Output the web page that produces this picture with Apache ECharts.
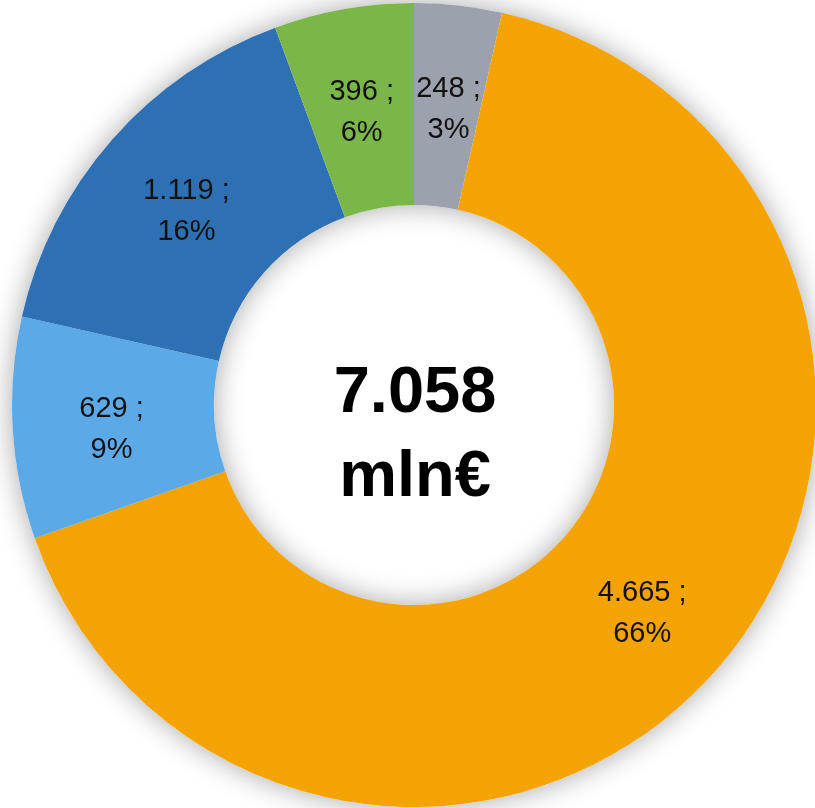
<!DOCTYPE html>
<html>
<head>
<meta charset="utf-8">
<script src="https://cdn.jsdelivr.net/npm/echarts@6/dist/echarts.min.js"></script>
<style>
  html, body { margin: 0; padding: 0; background: #fff; }
  #chart { width: 815px; height: 808px; }
</style>
</head>
<body>
<div id="chart"></div>
<script>
  // clockwise from 12 o'clock
  var categories = ['Altro', 'Voce A', 'Voce B', 'Voce C', 'Voce D'];
  var values = [248, 4665, 629, 1119, 396];
  var percents = ['3%', '66%', '9%', '16%', '6%'];
  var colors = ['#9ba2ae', '#f4a300', '#5ca9e8', '#2e70b4', '#7ab648'];
  var totalLabel = '7.058';
  var unitLabel = 'mln€';

  function fmt(n) {
    return String(n).replace(/\B(?=(\d{3})+(?!\d))/g, '.');
  }

  var data = values.map(function (v, i) {
    return { name: categories[i], value: v, pct: percents[i] };
  });

  var chart = echarts.init(document.getElementById('chart'));
  chart.setOption({
    animation: false,
    color: colors,
    series: [
      {
        // soft shadow under the ring
        type: 'pie',
        silent: true,
        center: [414, 405],
        radius: [200, 402],
        label: { show: false },
        labelLine: { show: false },
        itemStyle: {
          color: '#ffffff',
          shadowBlur: 28,
          shadowColor: 'rgba(0,0,0,0.35)'
        },
        data: [{ value: 1 }]
      },
      {
        type: 'pie',
        center: [414, 405],
        radius: [200, 402],
        startAngle: 90,
        clockwise: true,
        label: {
          show: true,
          position: 'inside',
          offset: [1, 7],
          fontFamily: 'Liberation Sans, Arial, sans-serif',
          fontSize: 29,
          lineHeight: 41,
          color: '#111',
          formatter: function (p) {
            return fmt(p.value) + ' ;\n' + p.data.pct;
          }
        },
        labelLine: { show: false },
        itemStyle: { borderWidth: 0 },
        data: data
      }
    ],
    graphic: [
      {
        type: 'text',
        x: 415,
        y: 352,
        style: {
          text: totalLabel + '\n' + unitLabel,
          font: 'bold 65px "Liberation Sans", Arial, sans-serif',
          lineHeight: 84,
          fill: '#000',
          align: 'center',
          verticalAlign: 'top'
        }
      }
    ]
  });
</script>
</body>
</html>
